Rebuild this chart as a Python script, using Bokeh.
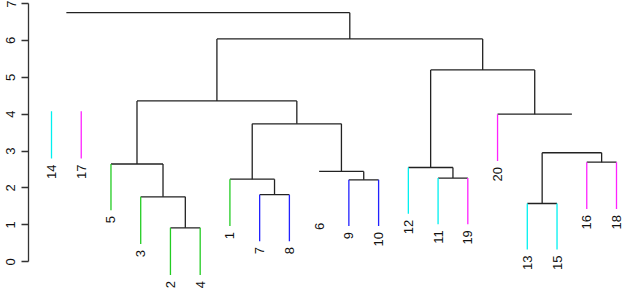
import math
from bokeh.plotting import figure
from bokeh.models import ColumnDataSource, FixedTicker, Range1d
from bokeh.embed import file_html
from bokeh.resources import INLINE
from bokeh.core.properties import value

# Leaves in plotting order, the height where each leaf branch ends, and its colour
leaf_labels = [14, 17, 5, 3, 2, 4, 1, 7, 8, 6, 9, 10, 12, 11, 19, 20, 13, 15, 16, 18]
leaf_end_heights = [2.80, 2.80, 1.40, 0.48, -0.36, -0.36, 0.97, 0.56, 0.56, 1.22,
                    0.97, 0.97, 1.30, 1.02, 1.02, 2.73, 0.33, 0.33, 1.43, 1.43]
CY, MG, GR, BL = "#00F0F0", "#FF22FF", "#22CC22", "#2222FF"
leaf_colors = [CY, MG, GR, GR, GR, GR, GR, BL, BL, "#000000", BL, BL,
               CY, CY, MG, MG, CY, CY, MG, MG]

# Merge table (R style: negative = leaf label, positive = earlier merge number)
merge_left = [-2, -3, -5, -7, -1, -9, -6, 5, 3, -11, -12, -13, -16, 12, -20, 11, 9, -14, 18]
merge_right = [-4, 1, 2, -8, 4, -10, 6, 7, 8, -19, 10, -15, -18, 13, 14, 15, 16, -17, 17]
merge_height = [0.92, 1.76, 2.65, 1.82, 2.24, 2.22, 2.45, 3.74, 4.36, 2.27, 2.555,
                1.58, 2.70, 2.955, 4.00, 5.20, 6.04, 4.08, 6.75]

# Pieces that are not drawn in the original picture
hidden_bars = [18]            # horizontal bar of merge 18
hidden_edges = [18, -6, 14]   # vertical edges from these children up to their parent

ticks_y = [0, 1, 2, 3, 4, 5, 6, 7]

# ---- layout of the dendrogram ----
leaf_pos = {lab: i + 1 for i, lab in enumerate(leaf_labels)}
leaf_end = dict(zip(leaf_labels, leaf_end_heights))
leaf_col = dict(zip(leaf_labels, leaf_colors))
node_x = {}

def xpos(c):
    return leaf_pos[-c] if c < 0 else node_x[c]

def top(c):
    return leaf_end[-c] if c < 0 else merge_height[c - 1]

x0, y0, x1, y1, cols = [], [], [], [], []
for k, (a, b, h) in enumerate(zip(merge_left, merge_right, merge_height), start=1):
    xa, xb = xpos(a), xpos(b)
    node_x[k] = (xa + xb) / 2.0
    if k not in hidden_bars:
        x0.append(xa); y0.append(h); x1.append(xb); y1.append(h); cols.append("#222222")
    for c in (a, b):
        if c in hidden_edges:
            continue
        xc = xpos(c)
        x0.append(xc); y0.append(top(c)); x1.append(xc); y1.append(h)
        cols.append(leaf_col[-c] if c < 0 else "#222222")

seg = ColumnDataSource(dict(x0=x0, y0=y0, x1=x1, y1=y1, c=cols))
lab = ColumnDataSource(dict(x=[leaf_pos[l] for l in leaf_labels],
                            y=leaf_end_heights,
                            t=[str(l) for l in leaf_labels]))

p = figure(width=624, height=291, output_backend="svg", toolbar_location=None,
           x_axis_location=None,
           x_range=Range1d(0.2266, 20.269), y_range=Range1d(-0.805, 7.081),
           min_border_left=28, min_border_right=0, min_border_top=0, min_border_bottom=0)
p.outline_line_color = None
p.grid.visible = False
p.background_fill_color = "white"

p.segment("x0", "y0", "x1", "y1", source=seg, line_color="c", line_width=1.3)
p.text("x", "y", text="t", source=lab, angle=math.pi / 2, text_align="right",
       text_baseline="middle", y_offset=6, text_font=value("Liberation Sans"),
       text_font_size="13px", text_color="#111111")

ax = p.yaxis[0]
ax.ticker = FixedTicker(ticks=ticks_y)
ax.bounds = (0, 7)
ax.major_tick_out = 7
ax.major_tick_in = 0
ax.minor_tick_line_color = None
ax.major_label_orientation = "vertical"
ax.major_label_standoff = 6
ax.major_label_text_font = "Liberation Sans"
ax.major_label_text_font_size = "13px"
ax.major_label_text_color = "#111111"
ax.axis_line_color = "#333333"
ax.major_tick_line_color = "#333333"
ax.axis_line_width = 1.3
ax.major_tick_line_width = 1.3

open("out.html", "w").write(file_html(p, INLINE))
